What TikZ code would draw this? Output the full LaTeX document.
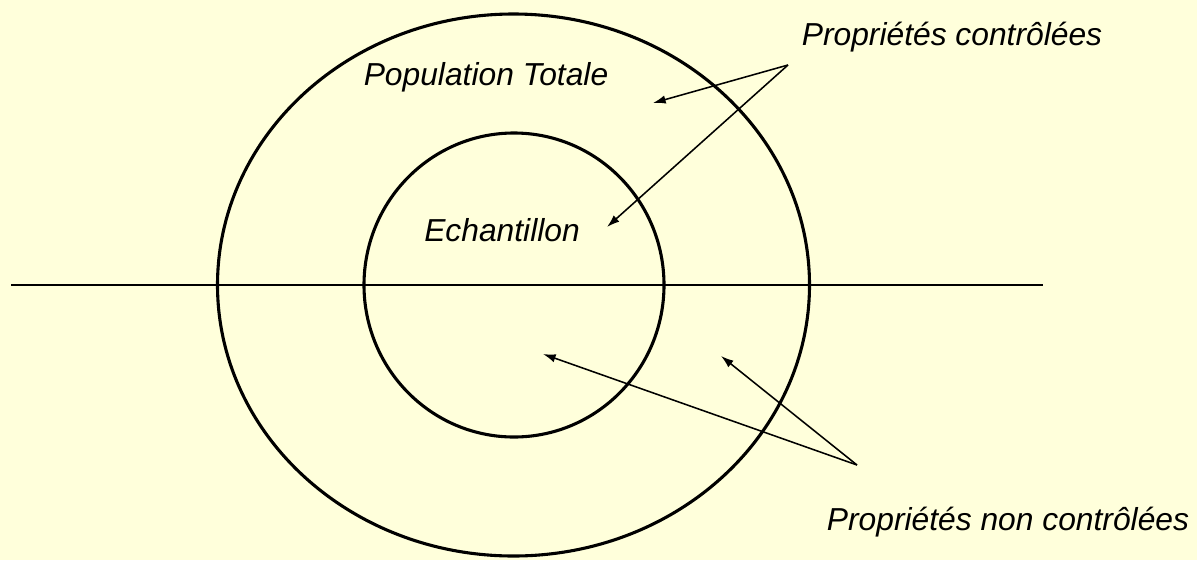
\documentclass[tikz,border=0pt]{standalone}
\usepackage{fontspec}
\setmainfont{Liberation Sans}
\usepackage{xcolor}
\usepackage{tikz}
\usetikzlibrary{positioning, arrows.meta}

\definecolor{paper}{RGB}{255,255,219}

\begin{document}
\begin{tikzpicture}[
        x=0.025cm, y=-0.025cm,
        label/.style={font=\fontsize{22.6}{26}\selectfont\itshape, inner sep=0pt},
        ring/.style={draw, line width=2.2pt},
        pointer/.style={-{Latex[length=9pt, width=6pt]}, line width=1.1pt}
    ]
    % Background and bounds
    \fill[paper] (0,0) rectangle (1197,560);
    \useasboundingbox (0,0) rectangle (1197,560);

    % Sets
    \draw[ring] (513.5,285) ellipse [x radius=296, y radius=271];
    \draw[ring] (514,285) circle [x radius=150, y radius=152];
    \draw[line width=1.4pt] (11,285) -- (1043,285);

    % Labels
    \node[label] (pop) at (486,77) {Population Totale};
    \node[label] (ech) at (502,230) {Echantillon};
    \node[label] (ctrl) at (952,37) {Propriétés contrôlées};
    \node[label] (nonctrl) at (1008,522) {Propriétés non contrôlées};

    % Arrow ends
    \coordinate (ctrlfrom) at (788,65);
    \coordinate (ctrlpop) at (653,103);
    \coordinate (ctrlech) at (607,227);
    \coordinate (ncfrom) at (857,465);
    \coordinate (ncech) at (543,354);
    \coordinate (ncpop) at (721,356);

    % Pointers - controlled
    \draw[pointer] (ctrlfrom) -- (ctrlpop);
    \draw[pointer] (ctrlfrom) -- (ctrlech);

    % Pointers - not controlled
    \draw[pointer] (ncfrom) -- (ncech);
    \draw[pointer] (ncfrom) -- (ncpop);

\end{tikzpicture}
\end{document}
